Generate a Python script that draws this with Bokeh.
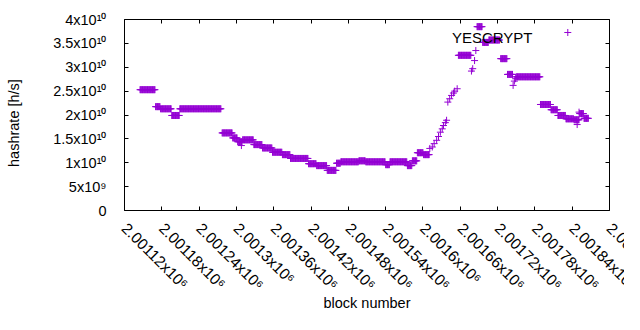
import math
import numpy as np
from bokeh.plotting import figure
from bokeh.models import Range1d, FixedTicker, LinearAxis, Label, CustomJSTickFormatter
from bokeh.embed import file_html
from bokeh.resources import INLINE

# ---------------- data ----------------
series_name = "YESCRYPT"

# runs of blocks that share the same hashrate estimate (h/s)
run_start = [2001145, 2001170, 2001178, 2001196, 2001209, 2001277, 2001294, 2001302,
             2001310, 2001328, 2001342, 2001358, 2001374, 2001387, 2001416, 2001429,
             2001446, 2001461, 2001468, 2001497, 2001508, 2001540, 2001547, 2001575,
             2001583, 2001591, 2001601, 2001657, 2001687, 2001696, 2001706, 2001725,
             2001736, 2001750, 2001789, 2001806, 2001817, 2001830, 2001843, 2001852,
             2001859]
run_end = [2001169, 2001177, 2001195, 2001208, 2001275, 2001293, 2001301, 2001309,
           2001327, 2001341, 2001357, 2001373, 2001386, 2001415, 2001428, 2001445,
           2001460, 2001467, 2001496, 2001507, 2001539, 2001546, 2001574, 2001582,
           2001590, 2001600, 2001610, 2001677, 2001695, 2001705, 2001723, 2001735,
           2001744, 2001788, 2001805, 2001816, 2001829, 2001842, 2001851, 2001858,
           2001866]
run_hashrate = [2.53e10, 2.175e10, 2.13e10, 1.99e10, 2.13e10, 1.625e10, 1.52e10, 1.44e10,
                1.48e10, 1.38e10, 1.31e10, 1.22e10, 1.17e10, 1.09e10, 0.98e10, 0.94e10,
                0.84e10, 0.99e10, 1.02e10, 1.04e10, 1.02e10, 0.96e10, 1.02e10, 0.94e10,
                1.04e10, 1.21e10, 1.17e10, 3.25e10, 3.85e10, 3.52e10, 3.57e10, 3.18e10,
                2.85e10, 2.80e10, 2.22e10, 2.11e10, 1.99e10, 1.92e10, 1.90e10, 2.03e10,
                1.93e10]

# isolated blocks
point_block = [2001308, 2001611, 2001615, 2001618, 2001622, 2001625, 2001628, 2001631,
               2001633, 2001636, 2001638, 2001640, 2001643, 2001646, 2001649, 2001651,
               2001655, 2001678, 2001680, 2001683, 2001685, 2001745, 2001747, 2001749,
               2001848, 2001851]
point_hashrate = [1.36e10, 1.30e10, 1.33e10, 1.40e10, 1.47e10, 1.55e10, 1.64e10, 1.71e10,
                  1.78e10, 1.84e10, 1.89e10, 2.27e10, 2.34e10, 2.41e10, 2.46e10, 2.50e10,
                  2.55e10, 2.92e10, 2.97e10, 3.14e10, 3.35e10, 2.62e10, 2.71e10, 2.76e10,
                  1.80e10, 2.06e10]

x_ticks = [2001120, 2001180, 2001240, 2001300, 2001360, 2001420, 2001480,
           2001540, 2001600, 2001660, 2001720, 2001780, 2001840, 2001900]
x_tick_mantissa = ["2.00112x10", "2.00118x10", "2.00124x10", "2.0013x10", "2.00136x10",
                   "2.00142x10", "2.00148x10", "2.00154x10", "2.0016x10", "2.00166x10",
                   "2.00172x10", "2.00178x10", "2.00184x10", "2.0019x10"]
x_tick_exp = "6"

y_ticks = [0, 5000000000, 10000000000, 15000000000, 20000000000, 25000000000,
           30000000000, 35000000000, 40000000000]
y_tick_main = ["0", "5x10", "1x10", "1.5x10", "2x10", "2.5x10", "3x10", "3.5x10", "4x10"]
y_tick_exp = ["", "9", "10", "10", "10", "10", "10", "10", "10"]

x_title = "block number"
y_title = "hashrate [h/s]"

X_LO, X_HI = 2001120, 2001900
Y_LO, Y_HI = 0, 40000000000

# ---------------- build the point list ----------------
blocks = np.concatenate([np.arange(s, e + 1) for s, e in zip(run_start, run_end)]
                        + [np.array(point_block)])
rates = np.concatenate([np.full(e - s + 1, v) for s, e, v in zip(run_start, run_end, run_hashrate)]
                       + [np.array(point_hashrate)])

FONT = "Liberation Sans"
COLOR = "#9400d3"
SUP = str.maketrans("0123456789", "\u2070\u00b9\u00b2\u00b3\u2074\u2075\u2076\u2077\u2078\u2079")

p = figure(width=624, height=314, output_backend="svg", toolbar_location=None,
           x_range=Range1d(X_LO, X_HI), y_range=Range1d(Y_LO, Y_HI),
           x_axis_location=None, y_axis_location=None,
           min_border_left=124, min_border_right=15, min_border_top=19, min_border_bottom=104)
p.xgrid.visible = False
p.ygrid.visible = False
p.outline_line_color = "black"
p.outline_line_width = 1
p.outline_line_alpha = 1.0
p.background_fill_color = "white"
p.border_fill_color = "white"

common = dict(major_tick_in=4, major_tick_out=0, major_tick_line_color="black",
              minor_tick_line_color=None, axis_line_color=None)

# bottom axis: rotated tick labels and title.
# Bokeh pushes the first and last listed label back inside the canvas; the labels that run
# off the right edge (as in the reference) are therefore listed in the middle of the ticker.
x_ticker_order = [x_ticks[0]] + x_ticks[-2:] + x_ticks[1:-2]
xax = LinearAxis(ticker=FixedTicker(ticks=x_ticker_order),
                 major_label_overrides={t: m + x_tick_exp.translate(SUP)
                                        for t, m in zip(x_ticks, x_tick_mantissa)},
                 major_label_orientation=-math.pi / 4, major_label_standoff=15,
                 major_label_text_font=FONT, major_label_text_font_size="15.5px",
                 major_label_text_color="black",
                 axis_label=x_title, axis_label_standoff=-7,
                 axis_label_text_font=FONT, axis_label_text_font_size="14.5px",
                 axis_label_text_font_style="normal", axis_label_text_color="black",
                 **common)
p.add_layout(xax, "below")

# left axis
yax = LinearAxis(ticker=FixedTicker(ticks=y_ticks),
                 major_label_overrides={t: m + e.translate(SUP)
                                        for t, m, e in zip(y_ticks, y_tick_main, y_tick_exp)},
                 major_label_standoff=18,
                 major_label_text_font=FONT, major_label_text_font_size="14.5px",
                 major_label_text_color="black",
                 axis_label=y_title + "\u00a0\u00a0\u00a0\u00a0", axis_label_standoff=28,
                 axis_label_text_font=FONT, axis_label_text_font_size="14.5px",
                 axis_label_text_font_style="normal", axis_label_text_color="black",
                 **common)
p.add_layout(yax, "left")

# mirrored ticks on top and right
blank = CustomJSTickFormatter(code="return ''")
p.add_layout(LinearAxis(ticker=FixedTicker(ticks=x_ticks), formatter=blank,
                        major_label_standoff=0, **common), "above")
p.add_layout(LinearAxis(ticker=FixedTicker(ticks=y_ticks), formatter=blank,
                        major_label_standoff=0, **common), "right")

p.scatter(blocks, rates, marker="cross", size=7, line_color=COLOR, line_width=1)

# ---------------- legend (text, then key sample on its right) ----------------
p.add_layout(Label(x=X_HI, y=Y_HI, x_units="data", y_units="data", x_offset=-77, y_offset=-18,
                   text=series_name, text_font=FONT, text_font_size="15px",
                   text_align="right", text_baseline="alphabetic", text_color="black"))
key_x = X_LO + 0.9140 * (X_HI - X_LO)
key_y = Y_LO + 0.9320 * (Y_HI - Y_LO)
p.scatter([key_x], [key_y], marker="cross", size=7, line_color=COLOR, line_width=1)

open("out.html", "w").write(file_html(p, INLINE))
